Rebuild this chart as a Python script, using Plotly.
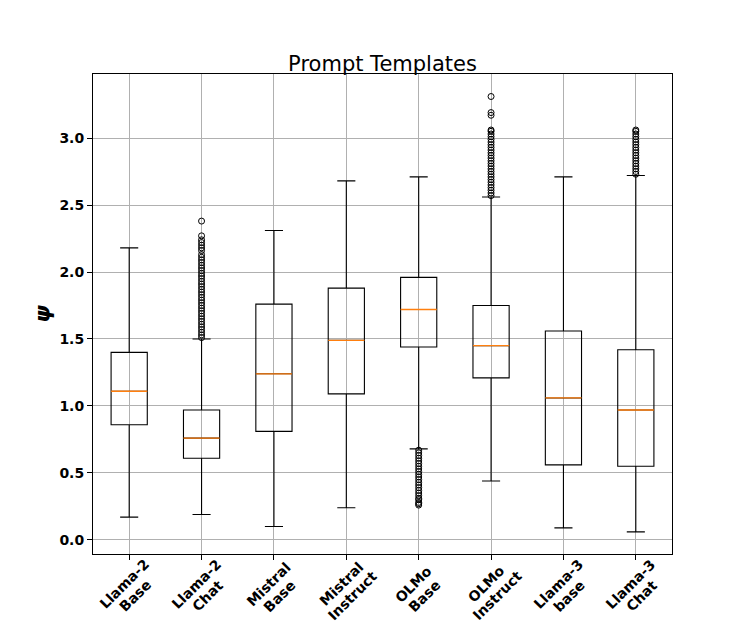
import plotly.graph_objects as go

# model names on the x axis (two lines each)
label_top = ["Llama-2", "Llama-2", "Mistral", "Mistral", "OLMo", "OLMo", "Llama-3", "Llama-3"]
label_bottom = ["Base", "Chat", "Base", "Instruct", "Base", "Instruct", "base", "Chat"]
positions = [1, 2, 3, 4, 5, 6, 7, 8]

# box statistics
lower = [0.17, 0.19, 0.10, 0.24, 0.68, 0.44, 0.09, 0.06]
q1 = [0.86, 0.61, 0.81, 1.09, 1.44, 1.21, 0.56, 0.55]
median = [1.11, 0.76, 1.24, 1.49, 1.72, 1.45, 1.06, 0.97]
q3 = [1.40, 0.97, 1.76, 1.88, 1.96, 1.75, 1.56, 1.42]
upper = [2.18, 1.50, 2.31, 2.68, 2.71, 2.56, 2.71, 2.72]

# fliers
llama2_chat_out = [1.51, 1.53, 1.55, 1.57, 1.59, 1.61, 1.63, 1.65, 1.67, 1.69, 1.71, 1.73,
                   1.75, 1.77, 1.79, 1.81, 1.83, 1.85, 1.87, 1.89, 1.91, 1.93, 1.95, 1.97,
                   1.99, 2.01, 2.03, 2.05, 2.07, 2.09, 2.11, 2.13, 2.16, 2.18, 2.20, 2.22,
                   2.24, 2.27, 2.38]
olmo_base_out = [0.67, 0.65, 0.63, 0.61, 0.59, 0.57, 0.55, 0.53, 0.51, 0.49, 0.47, 0.45,
                 0.43, 0.41, 0.39, 0.37, 0.35, 0.33, 0.31, 0.30, 0.28, 0.27, 0.26]
olmo_instruct_out = [2.57, 2.59, 2.61, 2.63, 2.65, 2.67, 2.69, 2.71, 2.73, 2.75, 2.77, 2.79,
                     2.81, 2.83, 2.85, 2.87, 2.89, 2.91, 2.93, 2.95, 2.97, 2.99, 3.01, 3.03,
                     3.05, 3.06, 3.17, 3.19, 3.31]
llama3_chat_out = [2.73, 2.75, 2.77, 2.79, 2.81, 2.83, 2.85, 2.87, 2.89, 2.91, 2.93, 2.95,
                   2.97, 2.99, 3.01, 3.03, 3.05, 3.06]
fliers = {2: llama2_chat_out, 5: olmo_base_out, 6: olmo_instruct_out, 8: llama3_chat_out}

box_w = 0.5

fig = go.Figure()
fig.add_trace(go.Box(
    x=positions, q1=q1, median=median, q3=q3, lowerfence=lower, upperfence=upper,
    width=box_w, whiskerwidth=0.5, line=dict(color="black", width=1.1),
    fillcolor="rgba(0,0,0,0)", boxpoints=False, showlegend=False, hoverinfo="skip",
))

# orange median lines
mx, my = [], []
for p, m in zip(positions, median):
    mx += [p - box_w / 2, p + box_w / 2, None]
    my += [m, m, None]
fig.add_trace(go.Scatter(x=mx, y=my, mode="lines", line=dict(color="#ff7f0e", width=1.3),
                         showlegend=False, hoverinfo="skip"))

for p, vals in fliers.items():
    fig.add_trace(go.Scatter(
        x=[p] * len(vals), y=vals, mode="markers",
        marker=dict(symbol="circle-open", size=6, color="black", line=dict(width=1)),
        showlegend=False, hoverinfo="skip"))

# rotated x labels, one annotation per line so the line spacing matches matplotlib
xtick_font = dict(family="DejaVu Sans", size=14, color="black", weight="bold")
for p, top, bot in zip(positions, label_top, label_bottom):
    fig.add_annotation(x=p, xref="x", y=0, yref="paper", text=top, textangle=-45,
                       showarrow=False, xanchor="center", yanchor="middle",
                       xshift=-5, yshift=-30, font=xtick_font)
    fig.add_annotation(x=p, xref="x", y=0, yref="paper", text=bot, textangle=-45,
                       showarrow=False, xanchor="center", yanchor="middle",
                       xshift=5.5, yshift=-41.5, font=xtick_font)

ytick_font = dict(family="DejaVu Sans", size=14, color="black", weight="bold")
# page body has an 8px margin, so the margins below are offset by it
fig.update_layout(
    width=747, height=623,
    paper_bgcolor="white", plot_bgcolor="white",
    margin=dict(l=85, r=83, t=66, b=77),
    font=dict(family="DejaVu Sans", color="black"),
    title=dict(text="Prompt Templates", x=0.5, xref="paper", xanchor="center",
               y=1, yref="paper", yanchor="bottom", pad=dict(b=3),
               font=dict(size=21, family="DejaVu Sans", color="black")),
)
fig.update_xaxes(
    range=[0.5, 8.5], tickvals=positions, showticklabels=False, automargin=False,
    showgrid=True, gridcolor="#b0b0b0", gridwidth=0.8,
    showline=True, linecolor="black", linewidth=1, mirror=True,
    ticks="outside", ticklen=5, tickcolor="black", zeroline=False,
)
fig.update_yaxes(
    range=[-0.105, 3.478], tickvals=[0, 0.5, 1.0, 1.5, 2.0, 2.5, 3.0], tickformat=".1f",
    tickfont=ytick_font, automargin=False,
    showgrid=True, gridcolor="#b0b0b0", gridwidth=0.8,
    showline=True, linecolor="black", linewidth=1, mirror=True,
    ticks="outside", ticklen=5, tickcolor="black", zeroline=False,
    title=dict(text="ψ", standoff=2,
               font=dict(size=22, family="DejaVu Sans", weight="bold", style="italic")),
)

fig.write_html("out.html")
